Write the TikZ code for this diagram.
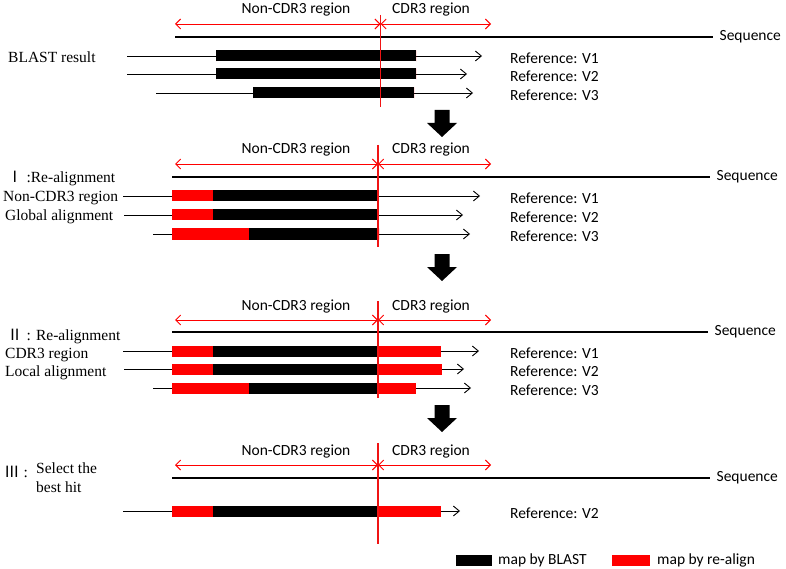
\documentclass[tikz,border=0pt]{standalone}
\usepackage{fontspec}
\setmainfont{Liberation Serif}
\newfontfamily\carl{Carlito}
\newfontfamily\cjkf{Noto Sans CJK SC}
\usetikzlibrary{arrows.meta}
\definecolor{divred}{RGB}{240,20,20}

\newcommand{\regionhead}[5]{% #1 prefix, #2 arrow y, #3 divider x, #4 top, #5 bottom
  \coordinate (#1L) at (175,#2);
  \coordinate (#1M) at (#3,#2);
  \coordinate (#1R) at (491,#2);
  \draw[regarr] (#1L) -- (#1M);
  \draw[regarr] (#1M) -- (#1R);
  \node[sanslbl] (#1non) at (296,#2-14) {Non-CDR3 region};
  \node[sanslbl,anchor=west] (#1cdr) at (392,#2-14) {CDR3 region};
  \coordinate (#1vt) at (#3,#4);
  \coordinate (#1vb) at (#3,#5);
}
\newcommand{\seqline}[4]{% prefix, y, start x, end x
  \coordinate (#1a) at (#3,#2);
  \coordinate (#1b) at (#4,#2);
  \draw[seq] (#1a) -- (#1b) node[sanslbl,anchor=west,xshift=6pt] (#1t) {Sequence};
}
\newcommand{\hit}[9]{% name, y, line start, bar start, red/black, black end, red2 end, arrow end, ref
  \coordinate (#1s) at (#3,#2);
  \coordinate (#1e) at (#8,#2);
  \draw[hitline] (#1s) -- (#1e);
  \fill[red] (#4,#2-5.5) rectangle (#5,#2+5.5);
  \fill[black] (#5,#2-5.5) rectangle (#6,#2+5.5);
  \fill[red] (#6,#2-5.5) rectangle (#7,#2+5.5);
  \node[sanslbl,anchor=west] (#1ref) at (510,#2+2) {Reference: #9};
}
\newcommand{\bigarrow}[1]{% top y
  \fill[black] (434.5,#1) -- (449.5,#1) -- (449.5,#1+13) -- (457,#1+13) -- (442,#1+27)
        -- (427,#1+13) -- (434.5,#1+13) -- cycle;
}

\begin{document}
\begin{tikzpicture}[x=1pt,y=-1pt,
  sanslbl/.style={font=\carl\fontsize{15.5}{17}\selectfont, inner sep=0pt},
  serlbl/.style={font=\fontsize{15.5}{18}\selectfont, inner sep=0pt, anchor=west},
  regarr/.style={red, line width=0.9pt,
    {Straight Barb[length=5pt,width=10pt]}-{Straight Barb[length=5pt,width=10pt]}},
  seq/.style={line width=1.3pt},
  hitline/.style={line width=0.9pt, -{Straight Barb[length=6pt,width=10pt]}},
  divider/.style={draw=divred, line width=1.3pt}]
\useasboundingbox (0,0) rectangle (786,569);
\fill[white] (0,0) rectangle (786,569);

% ---------- Panel 1: BLAST result
\regionhead{pa}{24}{380.5}{15}{107}
\seqline{sa}{37}{175}{713}
\node[serlbl] (blast) at (8,57) {BLAST result};
\hit{a1}{56}{127}{216}{216}{416}{416}{482}{V1}
\hit{a2}{74}{127}{216}{216}{416}{416}{467}{V2}
\hit{a3}{93}{156}{253}{253}{414}{414}{473}{V3}
\bigarrow{110}

% ---------- Panel 2
\regionhead{pb}{164}{378}{145}{247}
\seqline{sb}{177}{172}{710}
\node[serlbl] (t2a) at (7,179) {{\cjkf Ⅰ} :Re-alignment};
\node[serlbl] (t2b) at (3,198) {Non-CDR3 region};
\node[serlbl] (t2c) at (5,217) {Global alignment};
\hit{b1}{196}{123}{172}{213}{377}{377}{480}{V1}
\hit{b2}{215}{124}{172}{213}{378}{378}{463}{V2}
\hit{b3}{234}{153}{172}{249}{379}{379}{470}{V3}
\bigarrow{254}

% ---------- Panel 3
\regionhead{pc}{320}{378}{301}{398}
\seqline{sc}{332}{172}{708}
\node[serlbl] (t3a) at (7,336) {{\cjkf Ⅱ} : Re-alignment};
\node[serlbl] (t3b) at (5,355) {CDR3 region};
\node[serlbl] (t3c) at (5,373) {Local alignment};
\hit{c1}{351}{123}{172}{213}{378}{441}{479}{V1}
\hit{c2}{369}{124}{172}{213}{378}{442}{464}{V2}
\hit{c3}{388}{153}{172}{249}{379}{416}{471}{V3}
\bigarrow{405}

% ---------- Panel 4
\regionhead{pd}{465}{378}{443}{544}
\seqline{sd}{478}{172}{710}
\node[serlbl] (t4a) at (4,472) {{\cjkf Ⅲ} :};
\node[serlbl,align=left,anchor=north west,font=\fontsize{15.5}{19}\selectfont] (t4b) at (36,463) {Select the\\best hit};
\hit{d1}{511}{123}{172}{213}{377}{441}{460}{V2}

% ---------- Legend
\fill[black] (456,555) rectangle (492,566);
\node[sanslbl,anchor=west] (lg1) at (498,560) {map by BLAST};
\fill[red] (612,555) rectangle (650,566);
\node[sanslbl,anchor=west] (lg2) at (657,560) {map by re-align};

% ---------- Dividers (drawn last)
\draw[divider] (pavt) -- (pavb);
\draw[divider] (pbvt) -- (pbvb);
\draw[divider] (pcvt) -- (pcvb);
\draw[divider] (pdvt) -- (pdvb);
\end{tikzpicture}
\end{document}
